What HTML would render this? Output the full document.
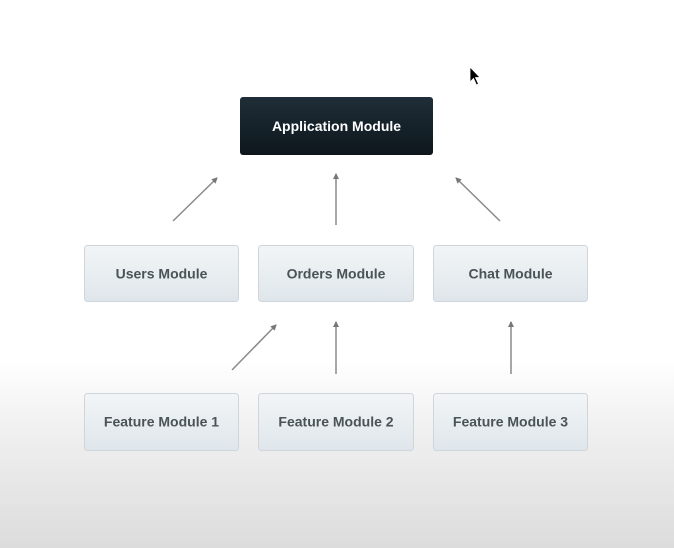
<!DOCTYPE html>
<html><head><meta charset="utf-8"><style>
html,body{margin:0;padding:0}
body{width:674px;height:548px;overflow:hidden;background:linear-gradient(#fff 0,#fff 360px,#f0f0f0 430px,#dcdcdc 548px);font-family:"Liberation Sans",sans-serif}
</style></head><body>
<svg width="674" height="548" xmlns="http://www.w3.org/2000/svg" style="position:absolute;left:0;top:0">
<defs>
<linearGradient id="bx" x1="0" y1="0" x2="0" y2="1"><stop offset="0" stop-color="#f2f5f7"/><stop offset="1" stop-color="#dfe6eb"/></linearGradient>
<linearGradient id="dk" x1="0" y1="0" x2="0" y2="1"><stop offset="0" stop-color="#1f2e38"/><stop offset="1" stop-color="#0d161c"/></linearGradient>
<marker id="ah" markerWidth="6" markerHeight="6" refX="5" refY="3" orient="auto" markerUnits="userSpaceOnUse"><path d="M0,0 L6,3 L0,6 z" fill="#777"/></marker>
</defs>
<rect x="240" y="97" width="193" height="58" rx="3" fill="url(#dk)"/>
<text x="336.5" y="131" text-anchor="middle" font-size="14" font-weight="bold" fill="#fff">Application Module</text>
<g stroke="#cfd6db" stroke-width="1" fill="url(#bx)">
<rect x="84.5" y="245.5" width="154" height="56" rx="3"/>
<rect x="258.5" y="245.5" width="155" height="56" rx="3"/>
<rect x="433.5" y="245.5" width="154" height="56" rx="3"/>
<rect x="84.5" y="393.5" width="154" height="57" rx="3"/>
<rect x="258.5" y="393.5" width="155" height="57" rx="3"/>
<rect x="433.5" y="393.5" width="154" height="57" rx="3"/>
</g>
<g font-size="14" font-weight="bold" fill="#4a5358" text-anchor="middle">
<text x="161.5" y="278.5">Users Module</text>
<text x="336" y="278.5">Orders Module</text>
<text x="510.5" y="278.5">Chat Module</text>
<text x="161.5" y="426.5">Feature Module 1</text>
<text x="336" y="426.5">Feature Module 2</text>
<text x="510.5" y="426.5">Feature Module 3</text>
</g>
<g stroke="#8a8a8a" stroke-width="1.5" marker-end="url(#ah)">
<line x1="173" y1="221" x2="217" y2="178"/>
<line x1="336" y1="225" x2="336" y2="174"/>
<line x1="500" y1="221" x2="456" y2="178"/>
<line x1="232" y1="370" x2="276" y2="325"/>
<line x1="336" y1="374" x2="336" y2="322"/>
<line x1="511" y1="374" x2="511" y2="322"/>
</g>
<path d="M470,67 L470,82 L473.5,78.5 L476.5,85 L478.5,84 L475.5,77.5 L480,77.5 z" fill="#000" stroke="#fff" stroke-width="0.8"/>
</svg>
</body></html>
